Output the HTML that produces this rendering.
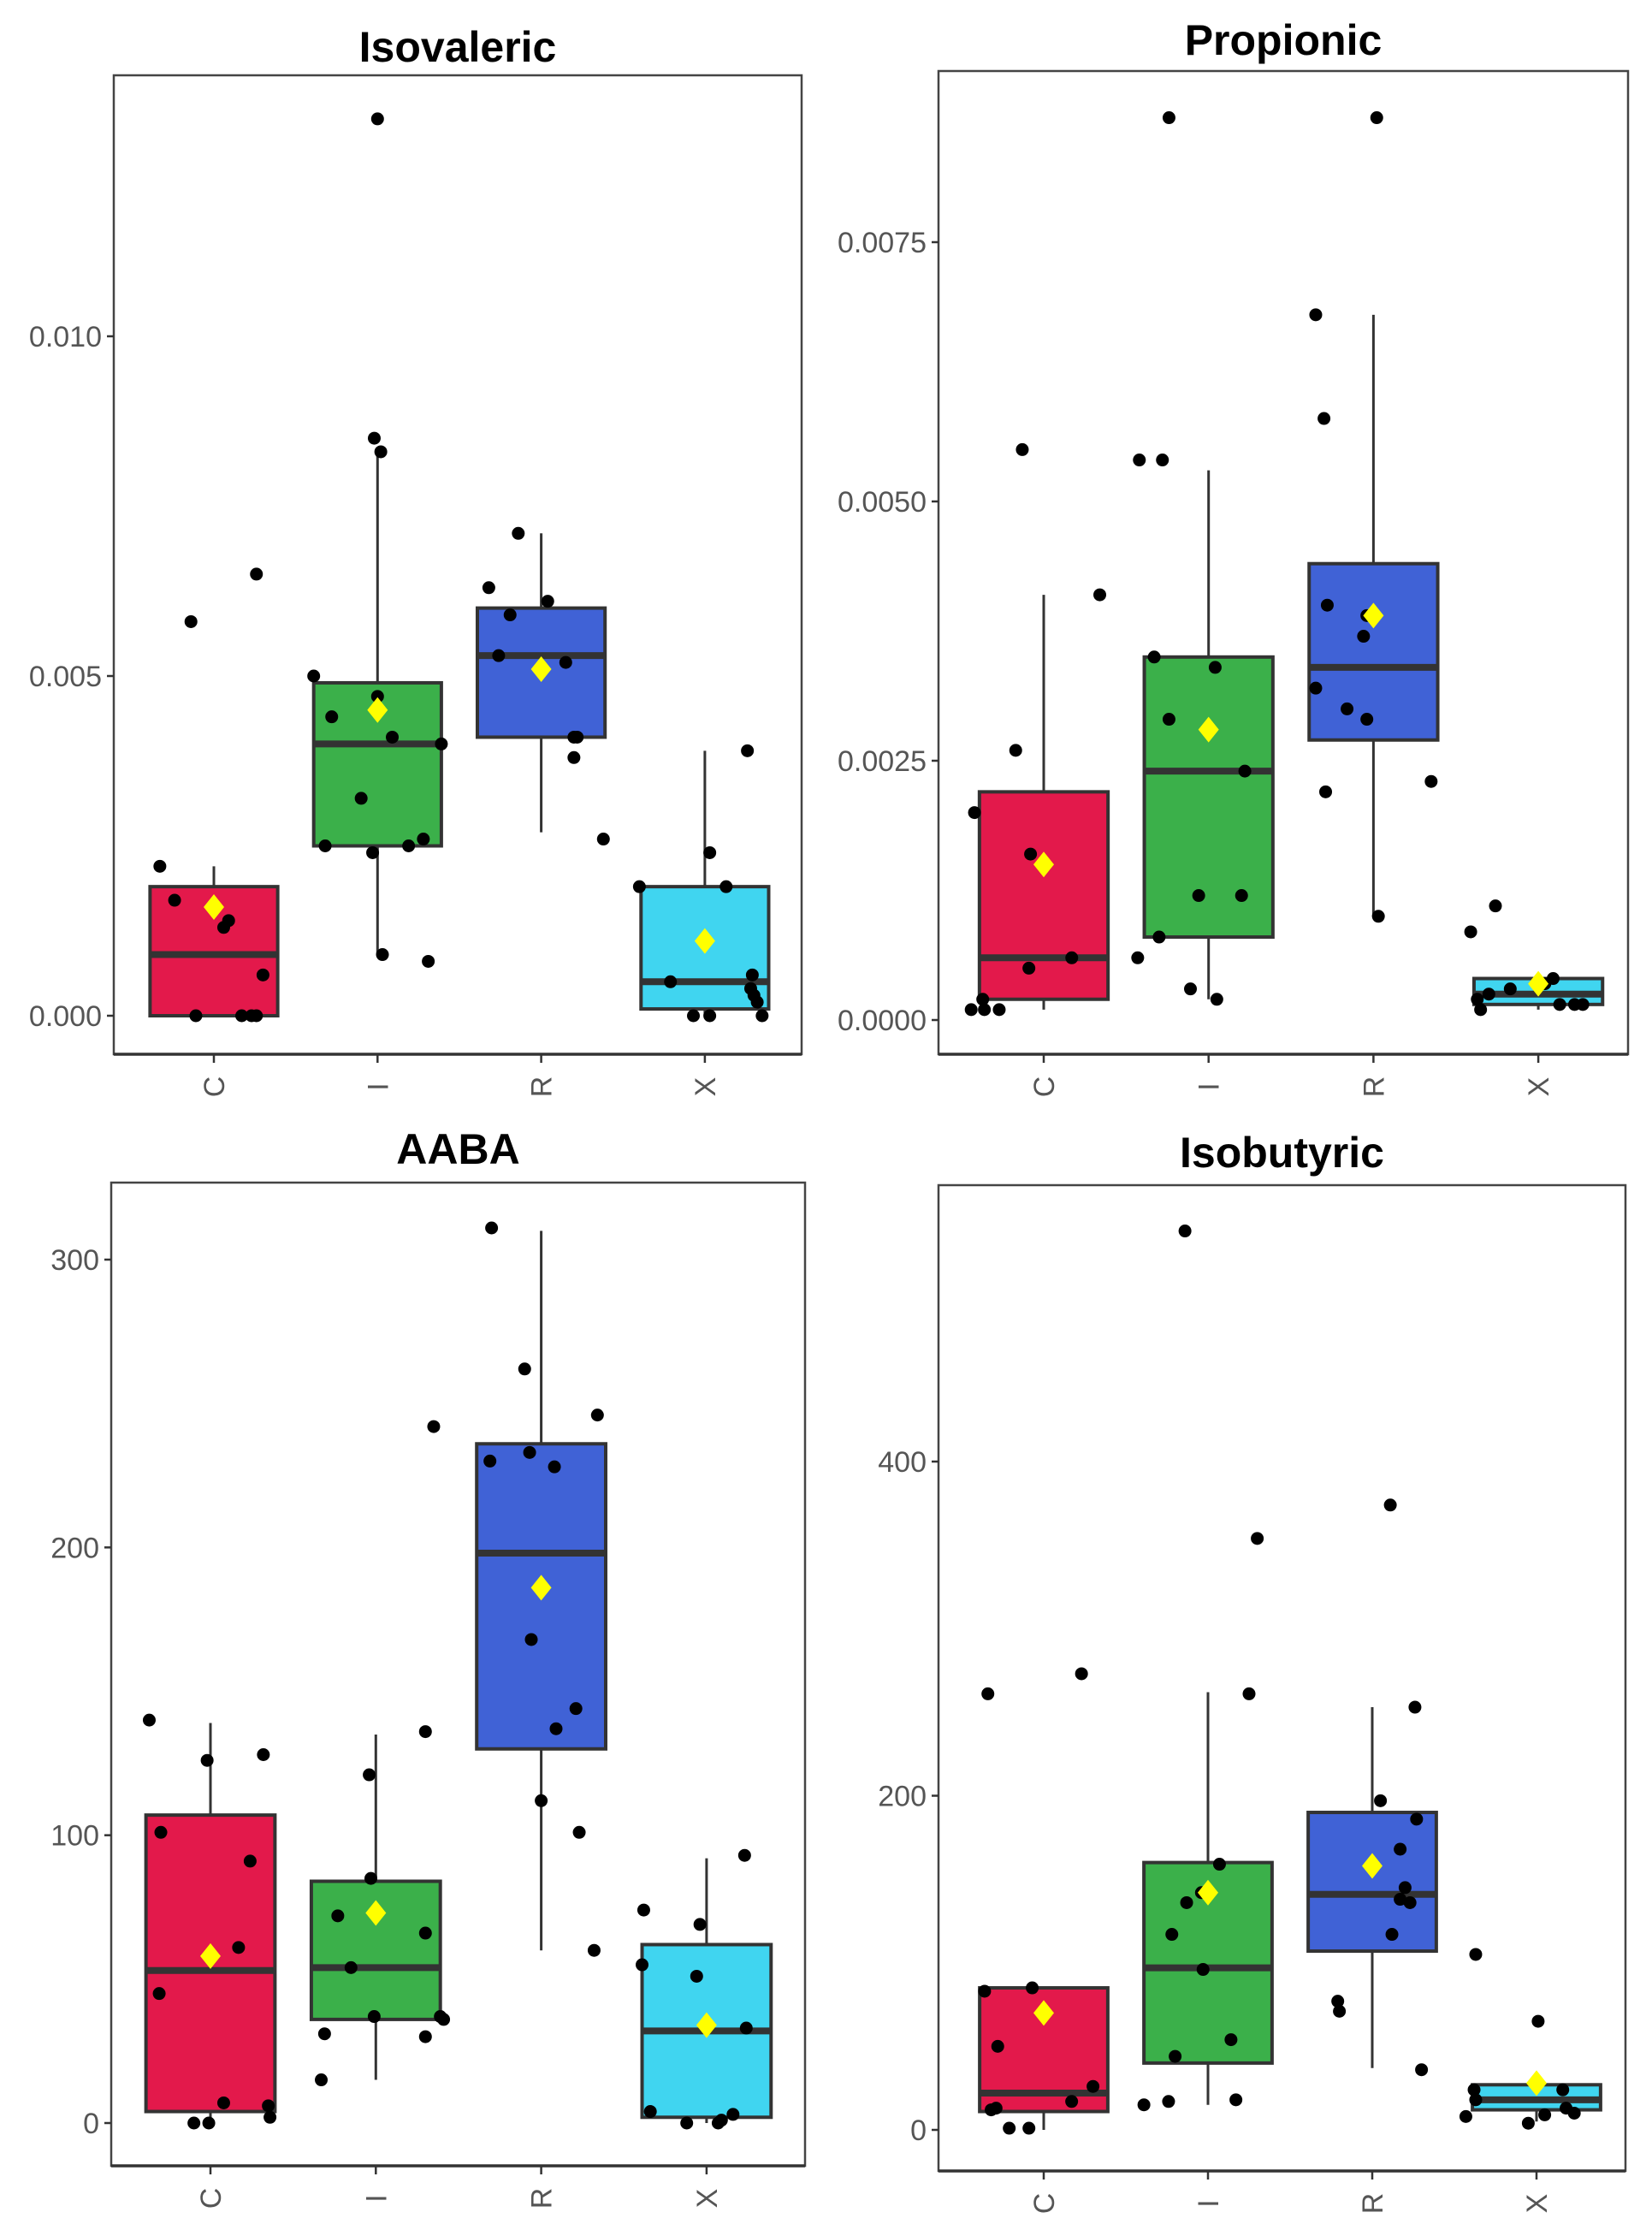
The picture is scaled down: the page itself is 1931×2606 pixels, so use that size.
<!DOCTYPE html>
<html><head><meta charset="utf-8"><style>
body{margin:0;background:#fff}
svg{display:block}
text{font-family:"Liberation Sans",sans-serif}
</style></head><body>
<svg id="chart" width="1931" height="2606" viewBox="0 0 1931 2606" xmlns="http://www.w3.org/2000/svg"></svg>
<script>
const categories = ["C","I","R","X"];
const colors = ["#e3194b","#3bb04a","#4062d6","#40d5f0"];

// Isovaleric
const isoTitle = "Isovaleric";
const isoTicks = [0, 0.005, 0.010];
const isoTickLabels = ["0.000","0.005","0.010"];
const isoBoxes = [[0,0,0.0009,0.0019,0.0022],[0.0009,0.0025,0.0040,0.0049,0.0083],[0.0027,0.0041,0.0053,0.0060,0.0071],[0,0.0001,0.0005,0.0019,0.0039]];
const isoMeans = [0.0016,0.0045,0.0051,0.0011];
const isoVals = [[0.0022,0.0017,0.0058,0.0014,0.0013,0,0,0,0,0.0065,0.0006],[0.0132,0.0085,0.0083,0.0050,0.0044,0.0047,0.0041,0.0040,0.0032,0.0025,0.0024,0.0025,0.0026,0.0009,0.0008],[0.0071,0.0063,0.0059,0.0061,0.0053,0.0052,0.0041,0.0041,0.0038,0.0026],[0.0039,0.0024,0.0019,0.0019,0.0005,0,0,0.0004,0.0003,0.0002,0,0.0006]];
const isoJit = [[-.33,-.24,-.14,.09,.06,-.11,.17,.23,.26,.26,.3],[0,-.02,.02,-.39,-.28,0,.09,.39,-.1,-.32,-.03,.19,.28,.03,.31],[-.14,-.32,-.19,.04,-.26,.15,.22,.2,.2,.38],[.26,.03,.13,-.4,-.21,-.07,.03,.28,.3,.32,.35,.29]];

// Propionic
const proTitle = "Propionic";
const proTicks = [0,0.0025,0.005,0.0075];
const proTickLabels = ["0.0000","0.0025","0.0050","0.0075"];
const proBoxes = [[0.0001,0.0002,0.0006,0.0022,0.0041],[0.0002,0.0008,0.0024,0.0035,0.0053],[0.0010,0.0027,0.0034,0.0044,0.0068],[0.0001,0.00015,0.00025,0.0004,0.0004]];
const proMeans = [0.0015,0.0028,0.0039,0.00035];
const proVals = [[0.0055,0.0026,0.0041,0.0020,0.0016,0.0005,0.0006,0.0001,0.0002,0.0001,0.0001],[0.0087,0.0054,0.0054,0.0035,0.0034,0.0029,0.0024,0.0012,0.0012,0.0008,0.0006,0.0003,0.0002],[0.0087,0.0068,0.0058,0.0040,0.0039,0.0037,0.0032,0.0030,0.0029,0.0022,0.0023,0.0010],[0.0011,0.00085,0.0002,0.0001,0.0003,0.0004,0.00035,0.00015,0.00015,0.00015,0.00025]];
const proJit = [[-.13,-.17,.34,-.42,-.08,-.09,.17,-.44,-.37,-.36,-.27],[-.24,-.42,-.28,-.33,.04,-.24,.22,-.06,.2,-.3,-.43,-.11,.05],[.02,-.35,-.3,-.28,-.04,-.06,-.35,-.16,-.04,-.29,.35,.03],[-.26,-.41,-.37,-.35,-.17,.09,.04,.13,.22,.27,-.3]];

// AABA
const aabTitle = "AABA";
const aabTicks = [0,100,200,300];
const aabTickLabels = ["0","100","200","300"];
const aabBoxes = [[0,4,53,107,139],[15,36,54,84,135],[60,130,198,236,310],[0,2,32,62,92]];
const aabMeans = [58,73,186,34];
const aabVals = [[140,126,128,101,91,61,45,7,0,0,6,2],[242,136,121,85,72,66,54,37,37,36,31,30,15],[311,262,246,233,230,228,168,144,137,112,101,60],[93,74,69,55,51,33,4,0,0,1,3]];
const aabJit = [[-.37,-.02,.32,-.3,.24,.17,-.31,.08,-.1,-.01,.35,.36],[.35,.3,-.04,-.03,-.23,.3,-.15,-.01,.39,.41,-.31,.3,-.33],[-.3,-.1,.34,-.07,-.31,.08,-.06,.21,.09,0,.23,.32],[.23,-.38,-.04,-.39,-.06,.24,-.34,-.12,.07,.09,.16]];

// Isobutyric
const ibuTitle = "Isobutyric";
const ibuTicks = [0,200,400];
const ibuTickLabels = ["0","200","400"];
const ibuBoxes = [[0,11,22,85,85],[15,40,97,160,262],[37,107,141,190,253],[5,12,18,27,27]];
const ibuMeans = [70,142,158,28];
const ibuVals = [[261,273,83,85,50,26,17,12,13,1,1],[538,354,261,159,136,142,117,96,54,44,17,15,18],[374,253,197,186,168,145,138,136,117,77,71,36],[105,65,8,24,18,4,24,13,10,9]];
const ibuJit = [[-.34,.23,-.36,-.07,-.28,.3,.17,-.32,-.29,-.21,-.09],[-.14,.3,.25,.07,-.13,-.04,-.22,-.03,.14,-.2,-.24,-.39,.17],[.11,.26,.05,.27,.17,.2,.17,.23,.12,-.21,-.2,.3],[-.37,.01,-.43,-.38,-.37,-.05,.16,.18,.23,.05]];

const NS="http://www.w3.org/2000/svg";
const svg=document.getElementById('chart');
function mk(tag,attrs,parent){const e=document.createElementNS(NS,tag);for(const k in attrs)e.setAttribute(k,attrs[k]);(parent||svg).appendChild(e);return e;}

function panel(key,cfg,title,ticks,tickLabels,boxes,means,vals,jit){
  const g=mk('g',{});
  
  
  const yS=v=>cfg.y0+(v-cfg.v0)*(cfg.y1-cfg.y0)/(cfg.v1-cfg.v0);
  const xS=i=>cfg.cx0+i*cfg.step;
  const bw=cfg.step*0.78;
  const t=mk('text',{x:(cfg.L+cfg.R)/2,y:cfg.titleY,'text-anchor':'middle','font-size':50,'font-weight':'bold',fill:'#000'},g);
  t.textContent=title;
  
  
  const bg=mk('rect',{x:cfg.L,y:cfg.T,width:cfg.R-cfg.L,height:cfg.B-cfg.T,fill:'#fff',stroke:'#444','stroke-width':2.5},g);
  
  
  mk('line',{x1:cfg.L,x2:cfg.R,y1:cfg.B,y2:cfg.B,stroke:'#333','stroke-width':3.5},g);
  ticks.forEach((v,k)=>{
    const y=yS(v);
    mk('line',{x1:cfg.L-8,x2:cfg.L,y1:y,y2:y,stroke:'#333','stroke-width':2.5},g);
    const tl=mk('text',{x:cfg.L-14,y:y+12,'text-anchor':'end','font-size':34,fill:'#555'},g);
    tl.textContent=tickLabels[k];
    
    
  });
  categories.forEach((c,i)=>{
    const x=xS(i);
    mk('line',{x1:x,x2:x,y1:cfg.B,y2:cfg.B+10,stroke:'#333','stroke-width':2.5},g);
    const xl=mk('text',{x:0,y:0,'text-anchor':'middle','font-size':34,fill:'#555',transform:`translate(${x+12},${cfg.B+38}) rotate(-90)`},g);
    xl.textContent=c;
    
    
    const b=boxes[i];
    mk('line',{x1:x,x2:x,y1:yS(b[0]),y2:yS(b[4]),stroke:'#333','stroke-width':3},g);
    const r=mk('rect',{x:x-bw/2,y:yS(b[3]),width:bw,height:Math.max(yS(b[1])-yS(b[3]),1),fill:colors[i],stroke:'#333','stroke-width':4},g);
    
    
    mk('line',{x1:x-bw/2,x2:x+bw/2,y1:yS(b[2]),y2:yS(b[2]),stroke:'#333','stroke-width':8},g);
  });
  categories.forEach((c,i)=>{
    vals[i].forEach((v,k)=>{
      const p=mk('circle',{cx:xS(i)+jit[i][k]*cfg.step,cy:yS(v),r:7.5,fill:'#000'},g);
      
      
    });
    const mx=xS(i),my=yS(means[i]);
    const d=mk('polygon',{points:`${mx},${my-15} ${mx+12},${my} ${mx},${my+15} ${mx-12},${my}`,fill:'#ffff00'},g);
    
    
  });
}
panel('isovaleric',{L:133,R:937,T:88,B:1232,v0:0,y0:1187,v1:0.01,y1:393,cx0:250,step:191.3,titleY:72},isoTitle,isoTicks,isoTickLabels,isoBoxes,isoMeans,isoVals,isoJit);
panel('propionic',{L:1097,R:1903,T:83,B:1232,v0:0,y0:1192,v1:0.0075,y1:283,cx0:1220,step:192.7,titleY:64},proTitle,proTicks,proTickLabels,proBoxes,proMeans,proVals,proJit);
panel('aaba',{L:130,R:941,T:1382,B:2531,v0:0,y0:2481,v1:300,y1:1472,cx0:246,step:193.3,titleY:1360},aabTitle,aabTicks,aabTickLabels,aabBoxes,aabMeans,aabVals,aabJit);
panel('isobutyric',{L:1097,R:1900,T:1385,B:2537,v0:0,y0:2489,v1:400,y1:1708,cx0:1220,step:192,titleY:1364},ibuTitle,ibuTicks,ibuTickLabels,ibuBoxes,ibuMeans,ibuVals,ibuJit);
</script>
</body></html>
